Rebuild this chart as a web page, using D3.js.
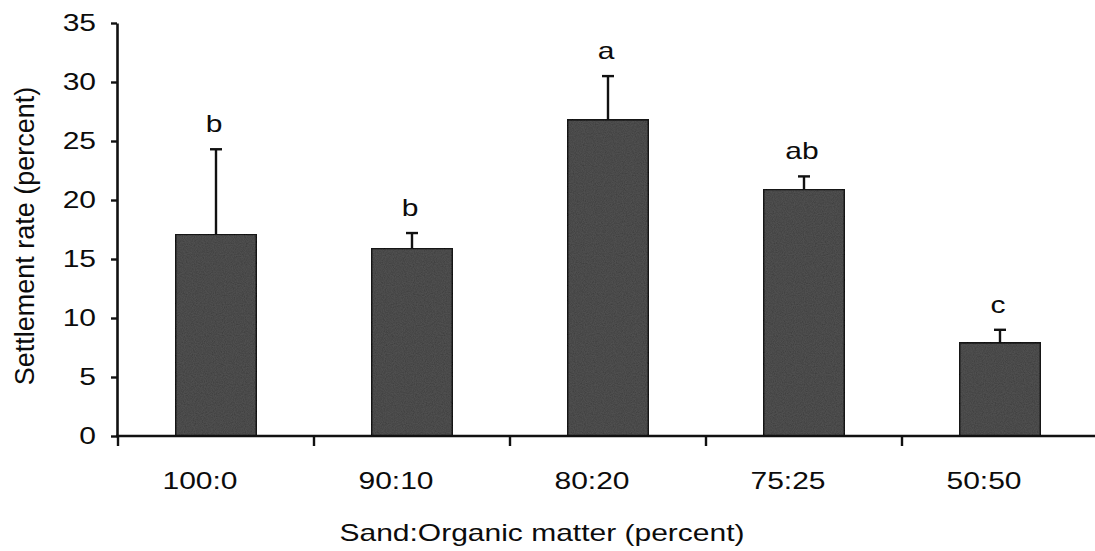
<!DOCTYPE html>
<html>
<head>
<meta charset="utf-8">
<script src="https://cdn.jsdelivr.net/npm/d3@7"></script>
<style>
  html, body { margin: 0; padding: 0; background: #fff; }
  svg text { font-family: "Liberation Sans", Arial, sans-serif; fill: #0c0c0c; }
</style>
</head>
<body>
<svg id="chart" width="1095" height="551"></svg>
<script>
// Sand:organic matter ratios and mean settlement rate with upper error (SE)
const categories = ["100:0", "90:10", "80:20", "75:25", "50:50"];
const means      = [17.1, 15.9, 26.8, 20.9, 7.9];
const upperError = [24.3, 17.2, 30.5, 22.0, 9.0];
const letters    = ["b", "b", "a", "ab", "c"];
const yTicks     = [0, 5, 10, 15, 20, 25, 30, 35];

// Text in this figure is set slightly wide
const STRETCH = 1.25;

const svg = d3.select("#chart");

// Grainy print texture for the bar fill
const defs = svg.append("defs");
const f = defs.append("filter").attr("id", "grain")
  .attr("x", 0).attr("y", 0).attr("width", 1).attr("height", 1);
f.append("feTurbulence").attr("type", "fractalNoise")
  .attr("baseFrequency", 0.9).attr("numOctaves", 2).attr("seed", 3).attr("result", "noise");
f.append("feColorMatrix").attr("in", "noise").attr("type", "matrix")
  .attr("values", "0 0 0 0 0  0 0 0 0 0  0 0 0 0 0  0 0 0 0.6 -0.15").attr("result", "dots");
f.append("feComposite").attr("in", "dots").attr("in2", "SourceGraphic").attr("operator", "atop");

const x = d3.scaleBand().domain(categories).range([118, 1098]).padding(0);
const y = d3.scaleLinear().domain([0, 35]).range([436, 23]);
const barW = x.bandwidth() * 0.413;
const cx = d => x(d) + x.bandwidth() / 2;

// Bars
svg.append("g").selectAll("rect").data(categories).join("rect")
  .attr("x", d => cx(d) - barW / 2)
  .attr("y", (d, i) => y(means[i]))
  .attr("width", barW)
  .attr("height", (d, i) => y(0) - y(means[i]))
  .attr("fill", "#505050")
  .attr("stroke", "#161616")
  .attr("stroke-width", 1.8)
  .attr("filter", "url(#grain)");

// Upper error bars with caps
const eb = svg.append("g").attr("stroke", "#111").attr("stroke-width", 2.4);
categories.forEach((c, i) => {
  eb.append("line").attr("x1", cx(c)).attr("x2", cx(c))
    .attr("y1", y(means[i])).attr("y2", y(upperError[i]));
  eb.append("line").attr("x1", cx(c) - 6).attr("x2", cx(c) + 6)
    .attr("y1", y(upperError[i])).attr("y2", y(upperError[i]));
});

// Significance letters
svg.append("g").selectAll("text").data(categories).join("text")
  .attr("transform", (d, i) => `translate(${cx(d) - 2},${y(upperError[i]) - 17}) scale(${STRETCH},1)`)
  .attr("text-anchor", "middle")
  .style("font-size", "24px")
  .text((d, i) => letters[i]);

// Y axis
const yAxis = svg.append("g").attr("transform", "translate(117,0)")
  .call(d3.axisLeft(y).tickValues(yTicks).tickSize(6).tickSizeOuter(0));
yAxis.select(".domain").attr("stroke", "#111").attr("stroke-width", 2.6);
yAxis.selectAll(".tick line").attr("stroke", "#111").attr("stroke-width", 2.4);
yAxis.selectAll(".tick text")
  .attr("fill", "#0c0c0c")
  .attr("font-family", "Liberation Sans, Arial, sans-serif")
  .style("font-size", "24px")
  .attr("x", -21 / STRETCH)
  .attr("transform", `scale(${STRETCH},1)`);

// X axis: line plus ticks on category boundaries
const xg = svg.append("g").attr("transform", `translate(0,${y(0)})`);
xg.append("line").attr("x1", 116).attr("x2", 1095).attr("y1", 0).attr("y2", 0)
  .attr("stroke", "#111").attr("stroke-width", 2.6);
xg.selectAll("line.tk").data(categories).join("line").attr("class", "tk")
  .attr("x1", d => x(d)).attr("x2", d => x(d))
  .attr("y1", 0).attr("y2", 10)
  .attr("stroke", "#111").attr("stroke-width", 2.4);
xg.selectAll("text").data(categories).join("text")
  .attr("transform", d => `translate(${cx(d) - 16},53) scale(${STRETCH},1)`)
  .attr("text-anchor", "middle")
  .style("font-size", "24px")
  .text(d => d);

// Axis titles
svg.append("text")
  .attr("transform", `translate(542,541) scale(${STRETCH},1)`)
  .attr("text-anchor", "middle")
  .style("font-size", "24px")
  .text("Sand:Organic matter (percent)");

svg.append("text")
  .attr("transform", "translate(34,236) rotate(-90)")
  .attr("text-anchor", "middle")
  .style("font-size", "27px")
  .text("Settlement rate (percent)");
</script>
</body>
</html>
